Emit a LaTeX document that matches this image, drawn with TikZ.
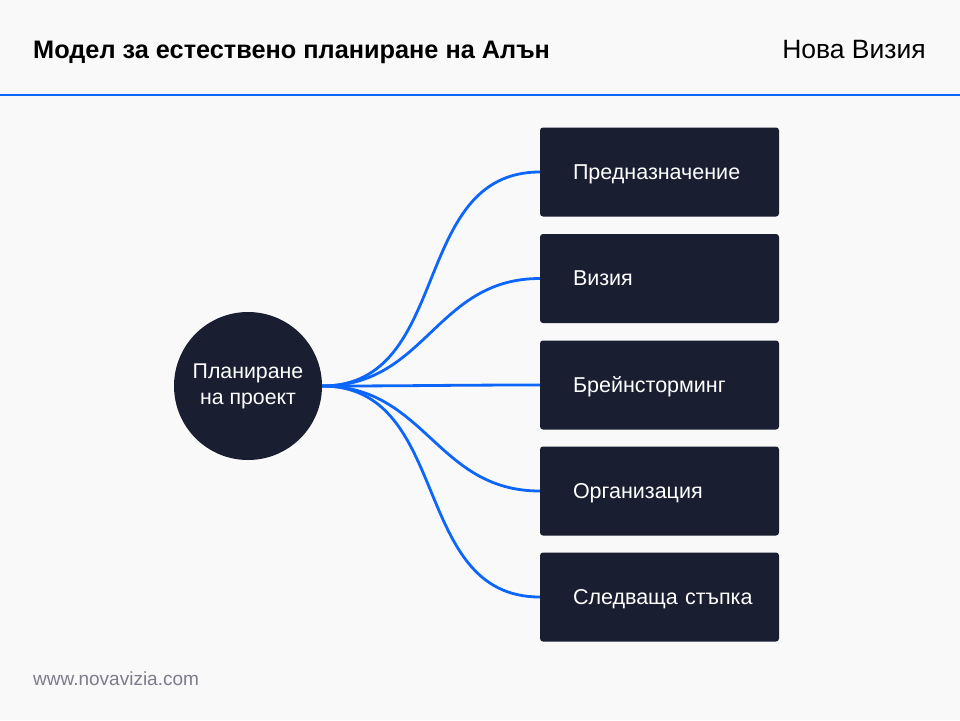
\documentclass[tikz,border=0pt]{standalone}
\usepackage{fontspec}
\setmainfont{Liberation Sans}
\definecolor{navy}{HTML}{1A1E31}
\definecolor{linkblue}{HTML}{0D66FA}
\definecolor{pagebg}{HTML}{F9F9F9}
\definecolor{footgray}{HTML}{7C7C8B}

\begin{document}
\begin{tikzpicture}[x=1pt, y=-1pt,
  hub/.style={circle, fill=navy, minimum size=148pt, inner sep=0pt, text=white,
    align=center, font=\fontsize{21.3}{26}\selectfont},
  topic/.style={fill=navy, rounded corners=3pt, minimum height=89pt, inner xsep=33pt,
    text width=173pt, text height=18pt, text depth=4pt, align=left, text=white,
    font=\fontsize{21.5}{26}\selectfont},
  link/.style={draw=linkblue, line width=2.8pt, out=0, in=180, looseness=1.1}]
  % Page background and frame
  \fill[pagebg] (0,0) rectangle (960,720);
  \useasboundingbox (0,0) rectangle (960,720);

  % Header
  \node[anchor=base west, inner sep=0pt, font=\fontsize{25.3}{30}\selectfont\bfseries] (title) at (33,58) {Модел за естествено планиране на Алън};
  \node[anchor=base east, inner sep=0pt, font=\fontsize{26.5}{30}\selectfont] (brand) at (926,58) {Нова Визия};
  \draw[linkblue, line width=2pt] (0,95) -- (960,95);

  % Center circle
  \node[hub] (plan) at (248,386) {Планиране\\на проект};

  % The five stages
  \node[topic] (purpose) at (659.5,172) {Предназначение};
  \node[topic] (vision) at (659.5,278.5) {Визия};
  \node[topic] (brainstorm) at (659.5,385) {Брейнсторминг};
  \node[topic] (organize) at (659.5,491) {Организация};
  \node[topic] (nextstep) at (659.5,597) {\mbox{Следваща стъпка}};

  % Links from circle to stages
  \draw[link] (plan.east) to (purpose.west);
  \draw[link] (plan.east) to (vision.west);
  \draw[link] (plan.east) to (brainstorm.west);
  \draw[link] (plan.east) to (organize.west);
  \draw[link] (plan.east) to (nextstep.west);

  % Footer
  \node[anchor=base west, inner sep=0pt, text=footgray, font=\fontsize{19}{22}\selectfont] (site) at (33,685) {www.novavizia.com};
\end{tikzpicture}
\end{document}
